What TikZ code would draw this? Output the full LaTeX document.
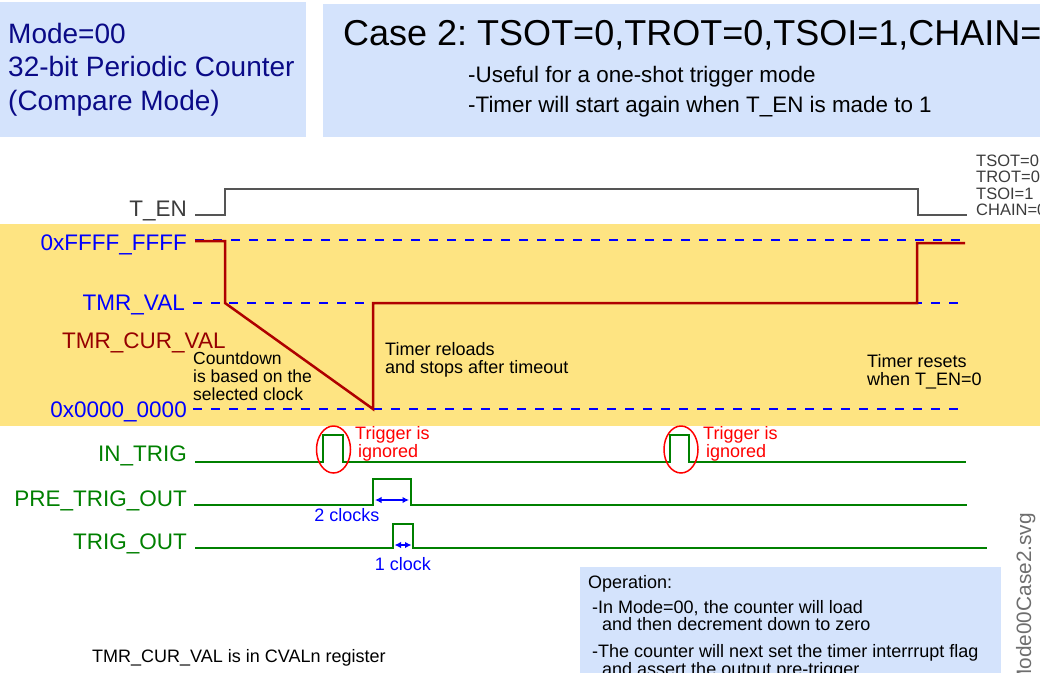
\documentclass[tikz,border=0pt]{standalone}
\usepackage{fontspec}
\setmainfont{Liberation Sans}
\usetikzlibrary{arrows.meta}
\frenchspacing
\definecolor{boxblue}{RGB}{212,227,252}
\definecolor{bandyellow}{RGB}{254,228,130}
\definecolor{navytext}{RGB}{10,10,135}
\definecolor{sigblue}{RGB}{0,0,255}
\definecolor{cntred}{RGB}{175,0,0}
\definecolor{curred}{RGB}{150,0,0}
\definecolor{siggreen}{RGB}{0,128,0}
\definecolor{noteRed}{RGB}{255,0,0}
\definecolor{sigGray}{RGB}{85,85,85}
\definecolor{txtGray}{RGB}{60,60,60}
\definecolor{fileGray}{RGB}{110,110,110}
\newcommand\fsTitle{\fontsize{36}{40}\selectfont}
\newcommand\fsMode{\fontsize{28}{33}\selectfont}
\newcommand\fsSub{\fontsize{22.4}{26}\selectfont}
\newcommand\fsLbl{\fontsize{22.5}{27}\selectfont}
\newcommand\fsNote{\fontsize{18}{21}\selectfont}
\newcommand\fsSmall{\fontsize{17.5}{20}\selectfont}
\newcommand\fsTiny{\fontsize{16.5}{18}\selectfont}
\newcommand\fsFile{\fontsize{20.8}{24}\selectfont}
\begin{document}
\begin{tikzpicture}[x=1pt,y=-1pt,
  lbl/.style={anchor=base east,inner sep=0pt,font=\fsLbl},
  txtw/.style={anchor=base west,inner sep=0pt},
  txtc/.style={anchor=base,inner sep=0pt},
  sig/.style={line width=2.5pt,siggreen,line join=miter},
  levelline/.style={sigblue,line width=2pt,dash pattern=on 9pt off 9pt},
  meas/.style={sigblue,line width=1.5pt,{Latex[length=6.5pt,width=6.5pt]}-{Latex[length=6.5pt,width=6.5pt]}},
  ring/.style={noteRed,line width=1.5pt}]
\useasboundingbox (0,0) rectangle (1040,672);
\clip (0,0) rectangle (1040,672);
% background boxes
\fill[boxblue] (0,2) rectangle (306,137);
\fill[boxblue] (323,4) rectangle (1040,137);
\fill[bandyellow] (0,224) rectangle (1040,426);
\fill[boxblue] (580,567) rectangle (1001,680);
% header texts
\node[txtw,text=navytext,font=\fsMode] (m1) at (8,43) {Mode=00};
\node[txtw,text=navytext,font=\fsMode] (m2) at (8,76.5) {32-bit Periodic Counter};
\node[txtw,text=navytext,font=\fsMode] (m3) at (8,110) {(Compare Mode)};
\node[txtw,font=\fsTitle] (title) at (343,45) {Case 2: TSOT=0,TROT=0,TSOI=1,CHAIN=0};
\node[txtw,font=\fsSub] (s1) at (468,82) {-Useful for a one-shot trigger mode};
\node[txtw,font=\fsSub] (s2) at (468,112) {-Timer will start again when T\_EN is made to 1};
% right-side settings
\node[txtw,text=txtGray,font=\fsTiny] (c1) at (976,166) {TSOT=0};
\node[txtw,text=txtGray,font=\fsTiny] (c2) at (976,182.5) {TROT=0};
\node[txtw,text=txtGray,font=\fsTiny] (c3) at (976,199) {TSOI=1};
\node[txtw,text=txtGray,font=\fsTiny] (c4) at (976,215.5) {CHAIN=0};
% labels
\node[lbl,text=txtGray] (ten) at (187,216) {T\_EN};
\node[lbl,text=sigblue] (lmax) at (187,250) {0xFFFF\_FFFF};
\node[lbl,text=sigblue] (lval) at (185,310) {TMR\_VAL};
\node[txtw,text=curred,font=\fsLbl] (lcur) at (62,348) {TMR\_CUR\_VAL};
\node[lbl,text=sigblue] (lzero) at (187,417) {0x0000\_0000};
\node[lbl,text=siggreen] (lin) at (187,461) {IN\_TRIG};
\node[lbl,text=siggreen] (lpre) at (187,506) {PRE\_TRIG\_OUT};
\node[lbl,text=siggreen] (lout) at (187,549) {TRIG\_OUT};
% T_EN waveform
\draw[sigGray,line width=2.5pt] (195,215) -- (225,215) -- (225,189) -- (918,189) -- (918,215) -- (967,215);
% level lines
\draw[levelline] (195,240) -- (965,240);
\draw[levelline] (193,303) -- (965,303);
\draw[levelline] (193,409) -- (965,409);
% counter value
\draw[cntred,line width=2.5pt] (195,241) -- (225,241) -- (225,303) -- (373,409) -- (373,303) -- (917,303) -- (917,243) -- (965,243);
% notes in band
\node[txtw,font=\fsSmall] (cd1) at (193,364) {Countdown};
\node[txtw,font=\fsSmall] (cd2) at (193,382) {is based on the};
\node[txtw,font=\fsSmall] (cd3) at (193,400) {selected clock};
\node[txtw,font=\fsNote] (tr1) at (385,355) {Timer reloads};
\node[txtw,font=\fsNote] (tr2) at (385,373) {and stops after timeout};
\node[txtw,font=\fsNote] (rs1) at (867,367) {Timer resets};
\node[txtw,font=\fsNote] (rs2) at (867,385) {when T\_EN=0};
% IN_TRIG
\draw[sig] (195,462) -- (323,462) -- (323,435) -- (343,435) -- (343,462) -- (670,462) -- (670,435) -- (689,435) -- (689,462) -- (966,462);
\draw[ring] (333.5,449.5) ellipse [x radius=17, y radius=23.5];
\draw[ring] (681,449.5) ellipse [x radius=17, y radius=23.5];
\node[txtw,text=noteRed,font=\fsNote] (ig1a) at (355,439) {Trigger is};
\node[txtw,text=noteRed,font=\fsNote] (ig1b) at (358,457) {ignored};
\node[txtw,text=noteRed,font=\fsNote] (ig2a) at (703,439) {Trigger is};
\node[txtw,text=noteRed,font=\fsNote] (ig2b) at (706,457) {ignored};
% PRE_TRIG_OUT
\draw[sig] (194,505) -- (373,505) -- (373,479) -- (411,479) -- (411,505) -- (967,505);
\coordinate (p2a) at (375,500);
\coordinate (p2b) at (409,500);
\draw[meas] (p2a) -- (p2b);
\node[txtc,text=sigblue,font=\fsNote] (two) at (347,521) {2 clocks};
% TRIG_OUT
\draw[sig] (195,548) -- (393,548) -- (393,524) -- (413,524) -- (413,548) -- (987,548);
\coordinate (p1a) at (394.5,545);
\coordinate (p1b) at (411.5,545);
\draw[meas] (p1a) -- (p1b);
\node[txtc,text=sigblue,font=\fsNote] (one) at (403,570) {1 clock};
% bottom notes
\node[txtw,font=\fsNote] (cval) at (92,662) {TMR\_CUR\_VAL is in CVALn register};
\node[txtw,font=\fsNote] (op0) at (588,588) {Operation:};
\node[txtw,font=\fsNote] (op1) at (592,613) {-In Mode=00, the counter will load};
\node[txtw,font=\fsNote] (op2) at (602,630) {and then decrement down to zero};
\node[txtw,font=\fsNote] (op3) at (592,657) {-The counter will next set the timer interrrupt flag};
\node[txtw,font=\fsNote] (op4) at (602,675) {and assert the output pre-trigger};
% file name
\node[rotate=90,anchor=base east,inner sep=0pt,text=fileGray,font=\fsFile] (fname) at (1031,513) {Mode00Case2.svg};
\end{tikzpicture}
\end{document}
